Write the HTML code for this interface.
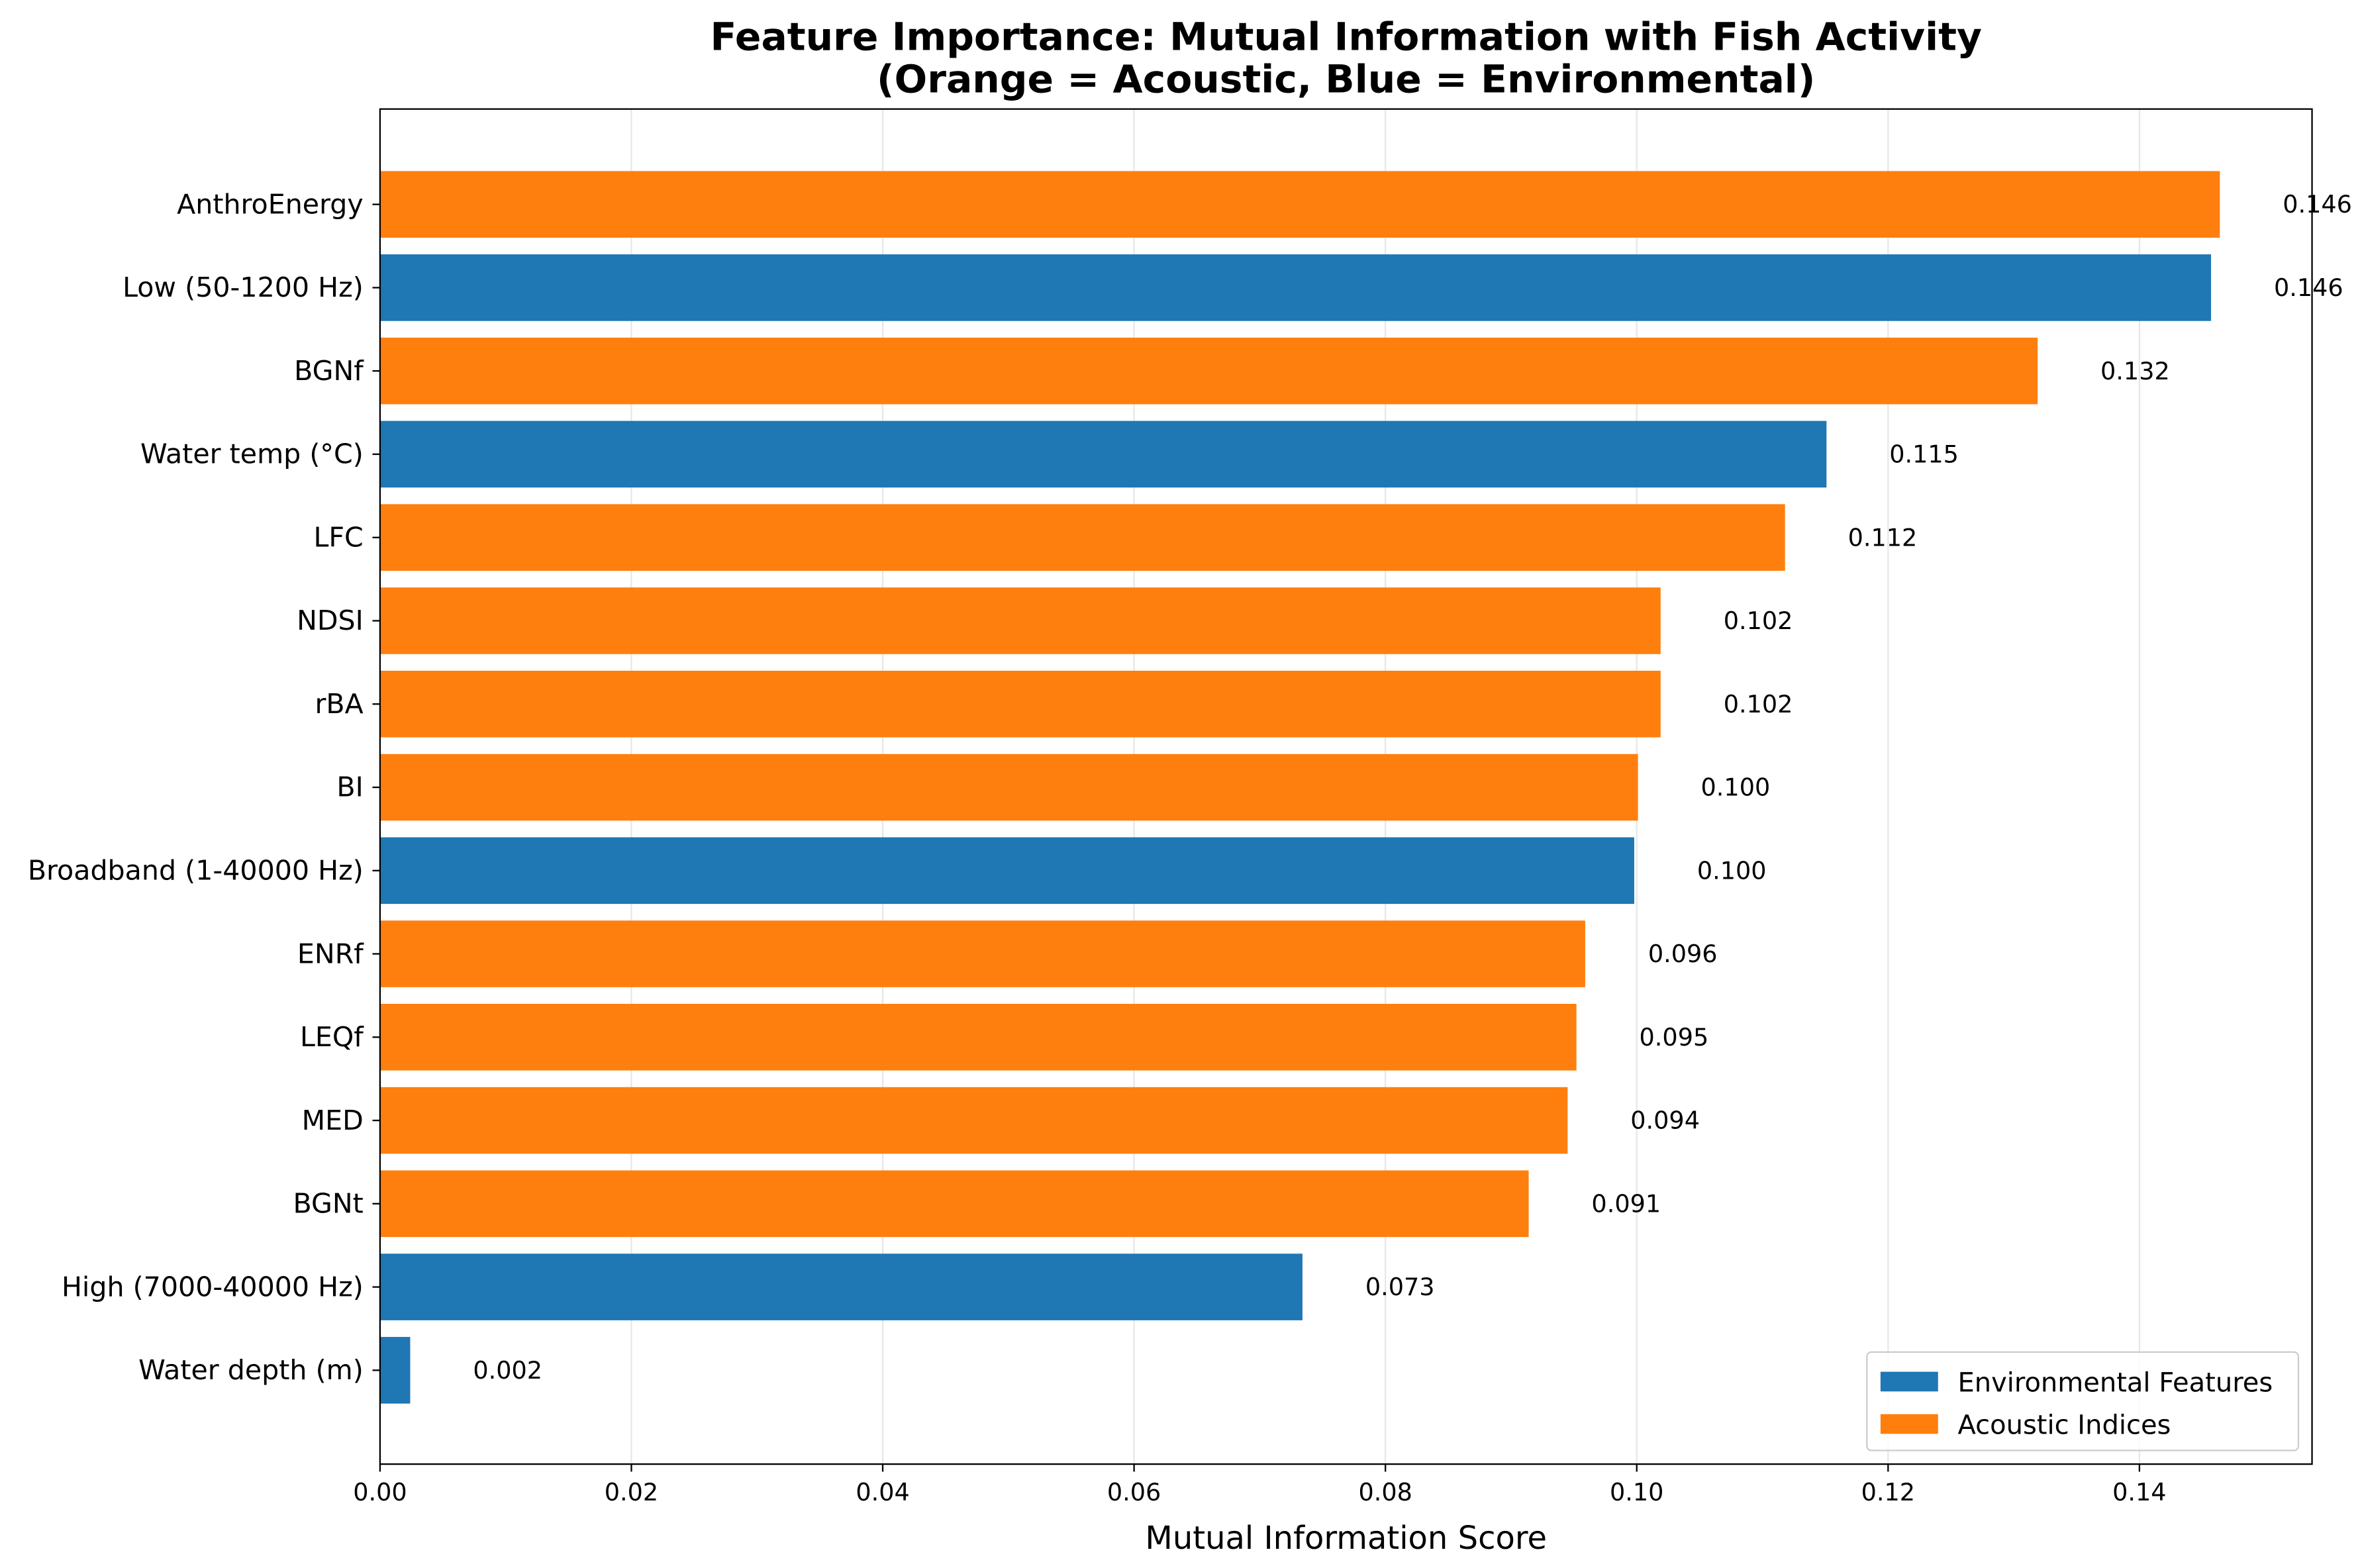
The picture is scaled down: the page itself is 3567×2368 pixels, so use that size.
<!DOCTYPE html>
<html><head><meta charset="utf-8"><style>
html,body{margin:0;padding:0;background:#fff}
svg{display:block;font-family:"DejaVu Sans","Liberation Sans",sans-serif}
</style></head><body>
<svg id="chart" width="3567" height="2368" viewBox="0 0 1560 1035.6" xmlns="http://www.w3.org/2000/svg">
<rect width="1560" height="1035.6" fill="#fff"/>
<g id="grid"></g>
<g id="bars"></g>
<g id="labels"></g>
<rect x="251" y="72" width="1276" height="895" fill="none" stroke="#000" stroke-width="1"/>
<g id="xticks"></g>
<g id="yticks"></g>
<text x="889" y="33" text-anchor="middle" font-size="25.5" font-weight="bold">Feature Importance: Mutual Information with Fish Activity</text>
<text x="889" y="61" text-anchor="middle" font-size="25.5" font-weight="bold">(Orange = Acoustic, Blue = Environmental)</text>
<text x="889" y="1023" text-anchor="middle" font-size="21">Mutual Information Score</text>
<g>
<rect x="1233" y="893" width="285" height="65" rx="3" fill="#fff" fill-opacity="0.8" stroke="#ccc"/>
<rect x="1242" y="906" width="38" height="13" fill="#1f77b4"/>
<text x="1293" y="919" font-size="17.5">Environmental Features</text>
<rect x="1242" y="934" width="38" height="13" fill="#ff7f0e"/>
<text x="1293" y="947" font-size="17.5">Acoustic Indices</text>
</g>
</svg>
<script>
const features = ["AnthroEnergy","Low (50-1200 Hz)","BGNf","Water temp (°C)","LFC","NDSI","rBA","BI","Broadband (1-40000 Hz)","ENRf","LEQf","MED","BGNt","High (7000-40000 Hz)","Water depth (m)"];
const scores = [0.1464,0.1457,0.1319,0.1151,0.1118,0.1019,0.1019,0.1001,0.0998,0.0959,0.0952,0.0945,0.0914,0.0734,0.0024];
const scoreLabels = ["0.146","0.146","0.132","0.115","0.112","0.102","0.102","0.100","0.100","0.096","0.095","0.094","0.091","0.073","0.002"];
const groups = ["a","e","a","e","a","a","a","a","e","a","a","a","a","e","e"];
const xTicks = [0,0.02,0.04,0.06,0.08,0.1,0.12,0.14];
const xTickLabels = ["0.00","0.02","0.04","0.06","0.08","0.10","0.12","0.14"];

const NS="http://www.w3.org/2000/svg";
const X0=251,X1=1527,XMAX=(1527-251)/8300;
const x=v=>X0+v/XMAX*(X1-X0);
const Y0=72,Y1=967,YLO=-1.145,YHI=features.length-1+1.127;
const y=i=>Y0+(i-YLO)/(YHI-YLO)*(Y1-Y0);
const band=(y(1)-y(0))*0.8;
function mk(tag,attrs,parent){const e=document.createElementNS(NS,tag);for(const k in attrs)e.setAttribute(k,attrs[k]);document.getElementById(parent).appendChild(e);return e;}

xTicks.forEach((t,i)=>{
  const g=mk('line',{x1:x(t),x2:x(t),y1:Y0,y2:Y1,stroke:'#b0b0b0','stroke-opacity':0.3,'stroke-width':1},'grid');
  
  
  const tk=mk('line',{x1:x(t),x2:x(t),y1:Y1,y2:Y1+5,stroke:'#000'},'xticks');
  
  
  const tl=mk('text',{x:x(t),y:Y1+24,'text-anchor':'middle','font-size':16},'xticks');
  tl.textContent=xTickLabels[i];
  
  
});
features.forEach((f,i)=>{
  const b=mk('rect',{x:x(0),y:y(i)-band/2,width:x(scores[i])-x(0),height:band,fill:groups[i]==='e'?'#1f77b4':'#ff7f0e'},'bars');
  
  
  const v=mk('text',{x:x(scores[i]+0.005),y:y(i)+5.5,'font-size':16},'labels');
  v.textContent=scoreLabels[i];
  
  
  const tk=mk('line',{x1:X0-5,x2:X0,y1:y(i),y2:y(i),stroke:'#000'},'yticks');
  
  
  const tl=mk('text',{x:X0-11,y:y(i)+6,'text-anchor':'end','font-size':18},'yticks');
  tl.textContent=f;
  
  
});
</script>
</body></html>
